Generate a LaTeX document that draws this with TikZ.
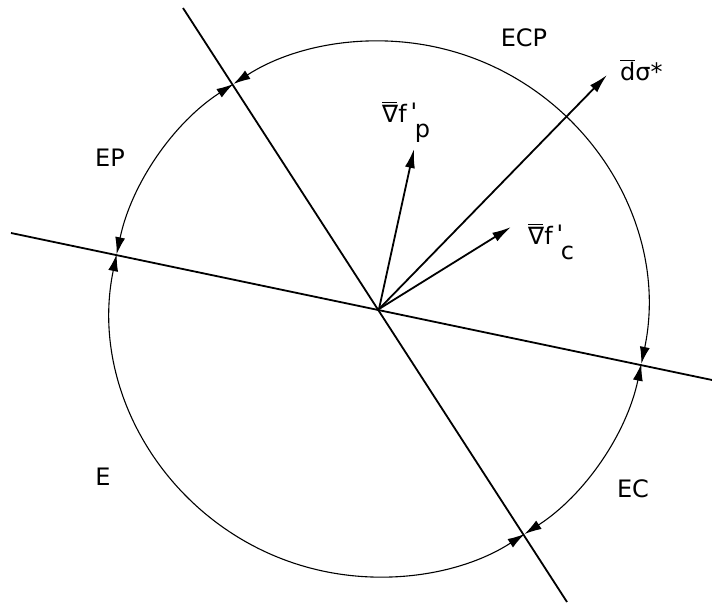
\documentclass[tikz,border=0pt]{standalone}
\usepackage{fontspec}
\setmainfont{DejaVu Sans}
\usetikzlibrary{arrows.meta}
\tikzset{
	region/.style={font={\fontsize{24}{28}\selectfont}, inner sep=0pt},
	bound/.style={line width=1.8pt},
	arcA/.style={line width=1.1pt,
		{Latex[length=17pt,width=10pt]}-{Latex[length=17pt,width=10pt]}},
	vecA/.style={line width=1.8pt, -{Latex[length=19pt,width=10pt]}},
	>=stealth,
}
\def\radC{268}
\newcommand{\barT}[1]{\makebox[0pt][l]{\rule[0.84em]{0.62em}{1.3pt}}#1}
\newcommand{\gradF}[1]{\barT{∇}f\,\raisebox{0.12em}{\textquotesingle}\hspace{-0.1em}\raisebox{-0.6em}{#1}}

\begin{document}
\begin{tikzpicture}[x=1pt, y=1pt]
\useasboundingbox (0,0) rectangle (712,605);
\coordinate (O) at (379,296);
% boundary lines
\coordinate (l1a) at (183,597); \coordinate (l1b) at (567,3);
\coordinate (l2a) at (11,372); \coordinate (l2b) at (712,225);
\draw[bound] (l1a) -- (l1b);
\draw[bound] (l2a) -- (l2b);
% circle, split in four arcs
\draw[arcA] ([shift={(-11.8:\radC)}]O) arc[start angle=-11.8, end angle=122.9, radius=\radC];
\draw[arcA] ([shift={(122.9:\radC)}]O) arc[start angle=122.9, end angle=168.2, radius=\radC];
\draw[arcA] ([shift={(168.2:\radC)}]O) arc[start angle=168.2, end angle=302.9, radius=\radC];
\draw[arcA] ([shift={(302.9:\radC)}]O) arc[start angle=302.9, end angle=348.2, radius=\radC];
% vectors
\coordinate (dS) at (607,530); \coordinate (gP) at (414,456); \coordinate (gC) at (511,378);
\draw[vecA] (O) -- (dS);
\draw[vecA] (O) -- (gP);
\draw[vecA] (O) -- (gC);
\node[region, anchor=base west] (dSl) at (620,524) {\barT{d}σ*};
\node[region, anchor=base west] (gPl) at (382,482) {\gradF{p}};
\node[region, anchor=base west] (gCl) at (528,360) {\gradF{c}};
% regions
\node[region] (ecp) at (524,567) {ECP};
\node[region] (ep) at (110,447) {EP};
\node[region] (e) at (103,128) {E};
\node[region] (ec) at (633,116) {EC};
\end{tikzpicture}
\end{document}
